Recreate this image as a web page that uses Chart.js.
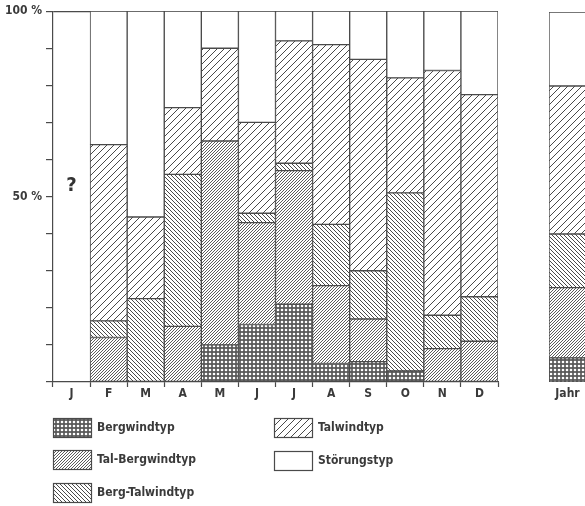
<!DOCTYPE html>
<html lang="de">
<head>
  <meta charset="UTF-8">
  <title>Windtypen nach Monaten</title>
  <script src="https://cdn.jsdelivr.net/npm/chart.js"></script>
  <style>
    body {
      margin: 0;
      background: #fff;
      width: 585px;
      height: 506px;
      overflow: hidden;
      position: relative;
    }
    canvas { position: absolute; top: 0; }
    #mainChart { left: 0; }
    #yearChart { left: 549px; }
  </style>
</head>
<body>
  <canvas id="mainChart" width="585" height="506"></canvas>
  <canvas id="yearChart" width="60" height="420"></canvas>

  <script>
    // Anteile der Windtypen in %, Januar fehlt ("?")
    const months = ['J', 'F', 'M', 'A', 'M', 'J', 'J', 'A', 'S', 'O', 'N', 'D'];
    const bergwind    = [null, null, null, null, 10, 15.5, 21, 5, 5.5, 3, null, null];
    const talBergwind = [null, 12, null, 15, 55, 27.5, 36, 21, 11.5, null, 9, 11];
    const bergTalwind = [null, 4.5, 22.5, 41, null, 2.5, 2, 16.5, 13, 48, 9, 12];
    const talwind     = [null, 47.5, 22, 18, 25, 24.5, 33, 48.5, 57, 31, 66, 54.5];
    const stoerung    = [null, 36, 55.5, 26, 10, 30, 8, 9, 13, 18, 16, 22.5];

    const yearLabel = ['Jahr'];
    const yearValues = [6.5, 19, 14.5, 40, 20];   // gleiche Reihenfolge wie typeNames

    const typeNames = ['Bergwindtyp', 'Tal-Bergwindtyp', 'Berg-Talwindtyp', 'Talwindtyp', 'Störungstyp'];
    const yTickLabels = { 100: '100 %', 50: '50 %' };

    const ink = '#4a4a4a';
    const font = { family: '"DejaVu Sans Condensed", "Liberation Sans Narrow", sans-serif', size: 12, weight: 'bold' };

    function tile(size, draw) {
      const c = document.createElement('canvas');
      c.width = c.height = size;
      const g = c.getContext('2d');
      g.fillStyle = '#fff';
      g.fillRect(0, 0, size, size);
      draw(g, size);
      return c.getContext('2d').createPattern(c, 'repeat');
    }

    function hatch(size, forward, lw) {
      return tile(size, (g, s) => {
        g.strokeStyle = ink;
        g.lineWidth = lw;
        g.beginPath();
        for (let k = -1; k <= 1; k++) {
          if (forward) {
            g.moveTo(k * s, s); g.lineTo(k * s + s, 0);
          } else {
            g.moveTo(k * s, 0); g.lineTo(k * s + s, s);
          }
        }
        g.stroke();
      });
    }

    const crossPattern = tile(4, (g, s) => {
      g.fillStyle = '#5a5a5a';
      g.fillRect(0, 0, s, s);
      g.fillStyle = '#fff';
      g.beginPath();
      g.arc(2, 2, 1.3, 0, Math.PI * 2);
      g.fill();
    });

    const fills = [
      crossPattern,
      hatch(3, true, 0.9),
      hatch(4.5, false, 1),
      hatch(7, true, 1),
      '#fff'
    ];

    function makeSets(seriesList) {
      return seriesList.map((data, i) => ({
        label: typeNames[i],
        data: data,
        backgroundColor: fills[i],
        borderColor: ink,
        borderWidth: 1,
        borderSkipped: false,
        barPercentage: 1,
        categoryPercentage: 1
      }));
    }

    const extras = {
      id: 'extras',
      afterDraw(chart) {
        const ctx = chart.ctx;
        const x = chart.scales.x, y = chart.scales.y;
        ctx.save();
        // fehlender Januar
        ctx.fillStyle = '#333';
        ctx.font = 'bold 20px "DejaVu Sans Condensed", sans-serif';
        ctx.textAlign = 'center';
        ctx.textBaseline = 'middle';
        ctx.fillText('?', x.getPixelForValue(0), y.getPixelForValue(53));

        // Legende
        const spots = [[53, 418], [53, 450], [53, 483], [274, 418], [274, 451]];
        ctx.textAlign = 'left';
        ctx.font = 'bold 12px "DejaVu Sans Condensed", sans-serif';
        typeNames.forEach((name, i) => {
          const [lx, ly] = spots[i];
          ctx.fillStyle = fills[i];
          ctx.fillRect(lx, ly, 38, 19);
          ctx.strokeStyle = ink;
          ctx.lineWidth = 1.2;
          ctx.strokeRect(lx + 0.5, ly + 0.5, 38, 19);
          ctx.fillStyle = '#3a3a3a';
          ctx.fillText(name, lx + 44, ly + 10);
        });
        ctx.restore();
      }
    };

    new Chart(document.getElementById('mainChart'), {
      type: 'bar',
      data: {
        labels: months,
        datasets: makeSets([bergwind, talBergwind, bergTalwind, talwind, stoerung])
      },
      options: {
        responsive: false,
        animation: false,
        layout: { padding: { top: 11, right: 87, bottom: 106, left: 0 } },
        plugins: { legend: { display: false }, tooltip: { enabled: false } },
        scales: {
          x: {
            stacked: true,
            offset: true,
            afterFit: s => { s.height = 18; },
            grid: { offset: true, drawOnChartArea: false, tickLength: 5, tickColor: ink, tickWidth: 1.2 },
            border: { display: true, color: ink, width: 1.2 },
            ticks: { color: '#3a3a3a', font: font, padding: 0 }
          },
          y: {
            stacked: true,
            min: 0,
            max: 100,
            afterFit: s => { s.width = 53; },
            grid: {
              color: c => c.tick && c.tick.value === 100 ? ink : 'transparent',
              lineWidth: 1.2,
              tickLength: 7,
              tickColor: ink,
              tickWidth: 1.2
            },
            border: { display: true, color: ink, width: 1.2 },
            ticks: {
              stepSize: 10,
              padding: 4,
              color: '#3a3a3a',
              font: font,
              callback: v => yTickLabels[v] || ''
            }
          }
        }
      },
      plugins: [extras]
    });

    new Chart(document.getElementById('yearChart'), {
      type: 'bar',
      data: {
        labels: yearLabel,
        datasets: makeSets(yearValues.map(v => [v]))
      },
      options: {
        responsive: false,
        animation: false,
        layout: { padding: { top: 12, right: 23, bottom: 20, left: 0 } },
        plugins: { legend: { display: false }, tooltip: { enabled: false } },
        scales: {
          x: {
            stacked: true,
            afterFit: s => { s.height = 18; },
            grid: { display: false, drawTicks: false },
            border: { display: false },
            ticks: { color: '#3a3a3a', font: font, padding: 5 }
          },
          y: { stacked: true, min: 0, max: 100, display: false }
        }
      }
    });
  </script>
</body>
</html>
